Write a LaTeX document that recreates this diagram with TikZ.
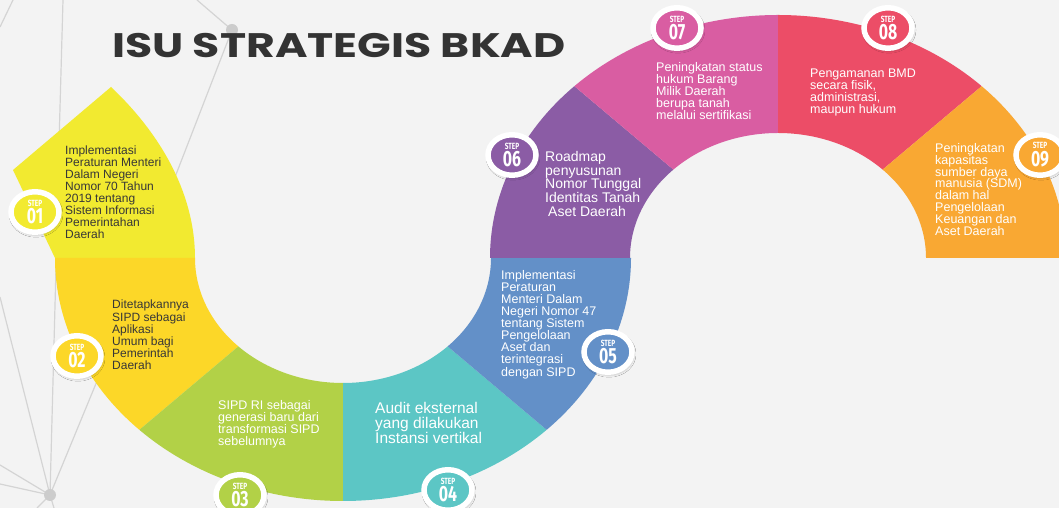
\documentclass[tikz,border=0pt]{standalone}
\usepackage{fontspec}
\setmainfont{Liberation Sans}
\newfontfamily\titlefont{Poppins}
\newfontfamily\stepfont{Fira Sans}
\usetikzlibrary{shapes.geometric, shadows.blur}

\definecolor{StepOne}{RGB}{242, 234, 48}
\definecolor{StepTwo}{RGB}{252, 215, 40}
\definecolor{StepThree}{RGB}{178, 209, 71}
\definecolor{StepFour}{RGB}{92, 198, 197}
\definecolor{StepFive}{RGB}{99, 144, 200}
\definecolor{StepSix}{RGB}{139, 92, 165}
\definecolor{StepSeven}{RGB}{217, 93, 162}
\definecolor{StepEight}{RGB}{236, 77, 103}
\definecolor{StepNine}{RGB}{249, 168, 51}
\definecolor{BgGray}{RGB}{243, 243, 243}
\definecolor{NetGray}{RGB}{212, 212, 212}
\definecolor{NetDot}{RGB}{204, 204, 204}
\definecolor{TitleGray}{RGB}{51, 51, 51}
\definecolor{DarkText}{RGB}{55, 55, 55}

% one band of the S, between two angles of the ring centred at (#1,250)
\newcommand{\ringpart}[4]{%
  \fill[#4, shift={(#1,250)}] (#2:288 and 243)
    arc[start angle=#2, end angle=#3, x radius=288, y radius=243]
    -- (#3:148 and 125)
    arc[start angle=#3, end angle=#2, x radius=148, y radius=125] -- cycle;}

\newcommand{\steplabel}[1]{%
  \scalebox{0.72}[1]{\fontsize{9}{9}\selectfont STEP}\\[1.5pt]
  \scalebox{0.72}[1]{\fontsize{22}{22}\selectfont #1}}

\tikzset{
  net/.style={draw=NetGray, line width=1.2pt},
  badge/.style={ellipse, draw=white, line width=5.5pt, minimum width=48pt,
    minimum height=40.5pt, inner sep=0pt, align=center, text=white,
    font=\stepfont\bfseries,
    blur shadow={shadow xshift=1pt, shadow yshift=-2pt, shadow opacity=35,
      shadow blur radius=3pt}},
  txt/.style={anchor=north west, inner sep=0pt, align=left, text=white,
    font=\fontsize{12.5}{12}\selectfont},
  title/.style={anchor=west, inner sep=0pt, text=TitleGray,
    font=\titlefont\bfseries\fontsize{34}{34}\selectfont}
}

\begin{document}
\begin{tikzpicture}[x=1pt, y=1pt]
    \clip (0,0) rectangle (1059,508);
    \fill[BgGray] (0,0) rectangle (1059,508);

    % Network lines in the background
    \draw[net] (0,481) -- (13,508);
    \draw[net] (63,508) -- (58,328);
    \draw[net] (197,508) -- (232,478) -- (170,318);
    \fill[NetDot] (232,478) circle (6);
    \foreach \p in {(0,211),(57,278),(114,168),(0,43),(0,24),(37,0),(54,0)}
        \draw[net] (50,13) -- \p;
    \fill[NetDot] (50,13) circle (6);

    % Step 01 head
    \fill[StepOne] (55,250) -- (13,338) -- (111,421)
        .. controls (165,370) and (195,310) .. (195,250) -- cycle;

    % Lower ring
    \foreach \a/\b/\c in {180/225/StepTwo, 225/270/StepThree,
                          270/315/StepFour, 315/360/StepFive}
        {\ringpart{343}{\a}{\b}{\c}}

    % Upper ring
    \foreach \a/\b/\c in {180/135/StepSix, 135/90/StepSeven,
                          90/45/StepEight, 45/0/StepNine}
        {\ringpart{778}{\a}{\b}{\c}}

    % Title
    \node[title] (title) at (112,462) {\scalebox{1.3}[1]{ISU STRATEGIS BKAD}};

    % Step badges
    \node[badge, fill=StepOne] (s01) at (35,296) {\steplabel{01}};
    \node[badge, fill=StepTwo] (s02) at (77,152) {\steplabel{02}};
    \node[badge, fill=StepThree] (s03) at (240,13) {\steplabel{03}};
    \node[badge, fill=StepFour] (s04) at (448,18) {\steplabel{04}};
    \node[badge, fill=StepFive] (s05) at (608,156) {\steplabel{05}};
    \node[badge, fill=StepSix] (s06) at (512,353) {\steplabel{06}};
    \node[badge, fill=StepSeven] (s07) at (677,480) {\steplabel{07}};
    \node[badge, fill=StepEight] (s08) at (888,480) {\steplabel{08}};
    \node[badge, fill=StepNine] (s09) at (1040,353) {\steplabel{09}};

    % Step texts
    \node[txt, text=DarkText, font=\fontsize{12}{12}\selectfont] (t01) at (65,362)
        {Implementasi\\Peraturan Menteri\\Dalam Negeri\\Nomor 70 Tahun\\2019 tentang\\Sistem Informasi\\Pemerintahan\\Daerah};
    \node[txt, text=DarkText, font=\fontsize{12}{12.2}\selectfont] (t02) at (112,208)
        {Ditetapkannya\\SIPD sebagai\\Aplikasi\\Umum bagi\\Pemerintah\\Daerah};
    \node[txt] (t03) at (218,108)
        {SIPD RI sebagai\\generasi baru dari\\transformasi SIPD\\sebelumnya};
    \node[txt, font=\fontsize{15.5}{15}\selectfont] (t04) at (375,106)
        {Audit eksternal\\yang dilakukan\\Instansi vertikal};
    \node[txt, font=\fontsize{12.5}{12.1}\selectfont] (t05) at (501,238)
        {Implementasi\\Peraturan\\Menteri Dalam\\Negeri Nomor 47\\tentang Sistem\\Pengelolaan\\Aset dan\\terintegrasi\\dengan SIPD};
    \node[txt, font=\fontsize{14}{13.8}\selectfont] (t06) at (545,357)
        {Roadmap\\penyusunan\\Nomor Tunggal\\Identitas Tanah\\\hspace{3pt}Aset Daerah};
    \node[txt] (t07) at (656,446)
        {Peningkatan status\\hukum Barang\\Milik Daerah\\berupa tanah\\melalui sertifikasi};
    \node[txt] (t08) at (810,439)
        {Pengamanan BMD\\secara fisik,\\administrasi,\\maupun hukum};
    \node[txt, font=\fontsize{12.5}{11.9}\selectfont] (t09) at (935,365)
        {Peningkatan\\kapasitas\\sumber daya\\manusia (SDM)\\dalam hal\\Pengelolaan\\Keuangan dan\\Aset Daerah};
\end{tikzpicture}
\end{document}
